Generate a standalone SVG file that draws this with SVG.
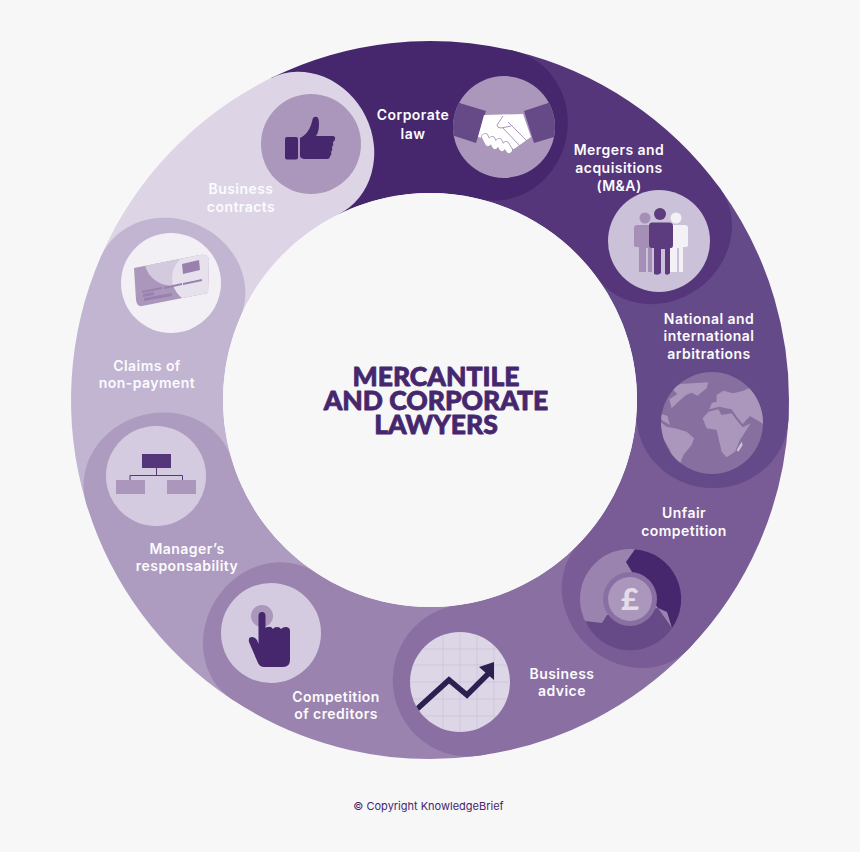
<svg xmlns="http://www.w3.org/2000/svg" width="860" height="852" viewBox="0 0 860 852">
<style>
.l{font-family:"Inter","Liberation Sans",sans-serif;font-weight:600;font-size:14px;fill:#fcfbfd;text-anchor:middle;letter-spacing:.45px}
.t{font-family:"Lato","Liberation Sans",sans-serif;font-weight:900;font-size:26.5px;fill:#46276e;stroke:#46276e;stroke-width:.8px;stroke-linejoin:round;text-anchor:middle}
.c0{fill:#46276e}.c1{fill:#55367a}.c2{fill:#654a8a}.c3{fill:#795b95}.c4{fill:#8a6fa3}.c5{fill:#9a83ae}.c6{fill:#ad9cc0}.c7{fill:#c2b5d2}.c8{fill:#ddd5e6}
.m{fill:#ab97bb}.p{fill:#d5cbe0}
</style>
<defs>
<clipPath id="cpA"><circle cx="504" cy="127" r="51"/></clipPath>
<clipPath id="cpG"><circle cx="712" cy="423" r="51"/></clipPath>
<clipPath id="cpC"><circle cx="460" cy="682" r="50"/></clipPath>
<clipPath id="cpK"><path d="M134 268L200 255Q208 254 209 260L208 293L142 306Q137 307 136 300Z"/></clipPath>
</defs>
<rect width="860" height="852" fill="#f7f7f7"/>
<g id="ring">
<path class="c1" d="M514.4 51.1A359 359 0 0 1 720.1 188.5L597.3 278A207 207 0 0 0 478.6 198.8Z"/>
<path class="c2" d="M720.1 188.5A359 359 0 0 1 788.4 420.4L636.7 411.8A207 207 0 0 0 597.3 278Z"/>
<path class="c3" d="M788.4 420.4A359 359 0 0 1 688.8 648.8L579.2 543.4A207 207 0 0 0 636.7 411.8Z"/>
<path class="c4" d="M688.8 648.8A359 359 0 0 1 478 755.8L457.7 605.2A207 207 0 0 0 579.2 543.4Z"/>
<path class="c5" d="M478 755.8A359 359 0 0 1 231.4 699.1L315.5 572.5A207 207 0 0 0 457.7 605.2Z"/>
<path class="c6" d="M231.4 699.1A359 359 0 0 1 86.1 502.9L231.7 459.3A207 207 0 0 0 315.5 572.5Z"/>
<path class="c7" d="M86.1 502.9A359 359 0 0 1 100.9 256.6L240.2 317.3A207 207 0 0 0 231.7 459.3Z"/>
<path class="c8" d="M100.9 256.6A359 359 0 0 1 271 78.1L338.3 214.4A207 207 0 0 0 240.2 317.3Z"/>
<path class="c0" d="M271 78.1A359 359 0 0 1 514.4 51.1L478.6 198.8A207 207 0 0 0 338.3 214.4Z"/>
</g>
<g id="corporate-law">
<ellipse class="c0" cx="496.500" cy="124.900" rx="71" ry="76" transform="rotate(13.6 496.500 124.900)"/>
<circle class="m" cx="504" cy="127" r="51"/>
<g clip-path="url(#cpA)">
<path fill="#654a87" d="M450 100L486 111L476 143L445 133Z"/>
<path fill="#654a87" d="M524 111L560 99L564 134L534 143Z"/>
</g>
<path fill="#fff" d="M484 115L523 114L531 137L514 149L490 140L478 137Z"/>
<g fill="none" stroke-linecap="round">
<path stroke="#ab97bb" stroke-width="7.500" d="M485 137L488 143M492 140L495 146M499 142L502 148M506 145L509 150"/>
<path stroke="#fff" stroke-width="6" d="M485 137L488 143M492 140L495 146M499 142L502 148M506 145L509 150"/>
</g>
<path fill="none" stroke="#ab97bb" stroke-width="1" d="M511 126L501 128Q497 128 497 125L503 116M508 122L527 141M503 128L520 146"/>
<text class="l" x="413" y="120">Corporate</text>
<text class="l" x="413" y="139">law</text>
</g>
<g id="mergers">
<ellipse class="c1" cx="658.700" cy="233.300" rx="68" ry="76" transform="rotate(53.9 658.700 233.300)"/>
<circle fill="#cbc1d8" cx="659" cy="241" r="51"/>
<g fill="#a58fb6">
<circle cx="645" cy="218" r="5.500"/>
<path d="M637 225H652V272H648V248H646V272H639V247H636Q634 247 634 245V228Q634 225 637 225Z"/>
</g>
<g fill="#f3f0f6">
<circle cx="676" cy="218" r="5.500"/>
<path d="M668 225H685Q688 225 688 228V245Q688 247 685 247H683V272H679V248H677V272H670Z"/>
</g>
<g fill="#5c3c7f">
<circle cx="660" cy="214" r="6"/>
<path d="M652 222.500H669Q673 222.500 673 226V245Q673 248 671 248H670V273Q668 276 665 274V249H661V273Q658 276 654 274V248H652Q649 248 649 245V226Q649 222.500 652 222.500Z"/>
</g>
<text class="l" x="619" y="155">Mergers and</text>
<text class="l" x="619" y="173">acquisitions</text>
<text class="l" x="619" y="191">(M&amp;A)</text>
</g>
<g id="arbitrations">
<ellipse class="c2" cx="712.500" cy="416.100" rx="72" ry="76" transform="rotate(93.3 712.500 416.100)"/>
<circle fill="#87709f" cx="712" cy="423" r="51"/>
<g clip-path="url(#cpG)">
<g class="m" transform="translate(560 130) scale(.3333)">
<path d="M335 775L362 762L445 757L440 775L412 797L395 788L378 795L355 815L335 835L328 808L352 792Z"/>
<path d="M470 795L490 782L520 790L550 782L590 765L615 800L615 885L590 870L570 858L548 882L530 860L515 838L498 835L478 830L448 838L455 820L470 815Z"/>
<path d="M428 865L445 845L475 838L485 855L515 850L530 870L548 892L572 880L540 930L525 965L500 982L485 965L470 900L440 895Z"/>
<path d="M300 875L320 890L345 895L380 905L402 925L395 945L370 975L355 1015L340 1010L330 960L310 925Z"/>
<path d="M300 850L322 858L330 885L305 870Z"/>
<path d="M530 960L545 935L548 945L535 965Z" fill="#cdc3d9"/>
</g>
</g>
<text class="l" x="709" y="324">National and</text>
<text class="l" x="709" y="341">international</text>
<text class="l" x="709" y="359">arbitrations</text>
</g>
<g id="unfair-competition">
<ellipse class="c3" cx="634" cy="596.100" rx="68" ry="76" transform="rotate(133.9 634 596.100)"/>
<circle class="c5" cx="630" cy="599" r="50"/>
<path class="c0" d="M635 549.300A50 50 0 0 1 672 628L667 612L658 608L632 572L626 562Z"/>
<path fill="#654a87" d="M672 628A50 50 0 0 1 585 621L602 623L607 615L658 608Z"/>
<circle class="c4" cx="630" cy="599" r="27"/>
<circle class="m" cx="630" cy="599" r="22"/>
<text x="630" y="610" text-anchor="middle" font-family="Lato,'Liberation Sans',sans-serif" font-weight="900" font-size="31" fill="#e3dcea">£</text>
<text class="l" x="684" y="518">Unfair</text>
<text class="l" x="684" y="536">competition</text>
</g>
<g id="business-advice">
<ellipse class="c4" cx="467.800" cy="680.500" rx="75" ry="76" transform="rotate(172.3 467.800 680.500)"/>
<circle fill="#ddd6e6" cx="460" cy="682" r="50"/>
<g clip-path="url(#cpC)">
<path fill="none" stroke="#cfc6dc" stroke-width="1" d="M443 630V735M460 630V735M477 630V735M494 630V735M410 649H510M410 665H510M410 682H510M410 699H510M410 716H510"/>
<path fill="none" stroke="#2b2150" stroke-width="5.500" d="M416 710L449 680L467 695L488 674"/>
</g>
<path fill="#2b2150" d="M494 662L479 667L494 680Z"/>
<text class="l" x="562" y="679">Business</text>
<text class="l" x="562" y="696">advice</text>
</g>
<g id="competition-of-creditors">
<ellipse class="c5" cx="273.500" cy="635.800" rx="68" ry="76" transform="rotate(-146.4 273.500 635.800)"/>
<circle class="p" cx="271" cy="633" r="50"/>
<circle class="m" cx="262" cy="616" r="11"/>
<path class="c0" d="M258.500 616Q258.500 612 262 612Q265.500 612 265.500 616V628Q266 627 268 627Q271 626 273 629Q274 627 277 627Q280 627 281 629Q283 627 285.500 627Q290 627 290 631V660Q290 667 283 667H264Q260 667 258 663L249 642Q248 637 252 637Q255 637 257 640L258.500 644Z"/>
<text class="l" x="336" y="702">Competition</text>
<text class="l" x="336" y="719">of creditors</text>
</g>
<g id="managers-responsability">
<ellipse class="c6" cx="158.900" cy="481.100" rx="68" ry="76" transform="rotate(-106.7 158.900 481.100)"/>
<circle class="p" cx="156" cy="476" r="50"/>
<rect class="c1" x="142" y="454" width="29" height="14"/>
<path fill="none" stroke="#55367a" stroke-width="1" d="M156.500 468V475.500M130 480V475.500H182.500V480"/>
<rect class="m" x="116" y="480" width="29" height="14"/>
<rect class="m" x="167" y="480" width="29" height="14"/>
<text class="l" x="187" y="554">Manager’s</text>
<text class="l" x="187" y="571">responsability</text>
</g>
<g id="claims-of-non-payment">
<ellipse class="c7" cx="170.600" cy="287" rx="68" ry="76" transform="rotate(-66.5 170.600 287)"/>
<circle fill="#f2f0f5" cx="171" cy="283" r="50"/>
<path class="m" d="M134 268L200 255Q208 254 209 260L208 293L142 306Q137 307 136 300Z"/>
<g clip-path="url(#cpK)">
<circle fill="#d3cadf" cx="172" cy="258" r="28"/>
<circle fill="#e6e1ec" cx="197" cy="278" r="25"/>
</g>
<path fill="#9a80ae" d="M182 264L199 260L200 270L183 274Z"/>
<path fill="#9a80ae" d="M142 291L162 287L162 289L142 293ZM164 287L182 283L182 285L164 289ZM183 283L202 279L202 281L183 285ZM143 294L154 292V295L143 297ZM144 298L172 293V296L144 301Z"/>
<text class="l" x="147" y="371">Claims of</text>
<text class="l" x="147" y="388">non-payment</text>
</g>
<g id="business-contracts">
<ellipse class="c8" cx="304.600" cy="146.300" rx="68" ry="76" transform="rotate(-26.3 304.600 146.300)"/>
<circle class="m" cx="311" cy="144" r="50"/>
<rect class="c0" x="285" y="137" width="13" height="22.500" rx="2"/>
<path class="c0" d="M300 138Q308 134 311 125L313 118Q315 116 317 117Q319 118 319 124Q319 132 316 136H333Q336 137 335 139Q335 141 333 142Q334 145 332 147Q333 150 331 152Q332 155 330 156Q330 159 327 159H304Q300 158 300 156Z"/>
<text class="l" x="241" y="194">Business</text>
<text class="l" x="241" y="212">contracts</text>
</g>
<g id="centre">
<circle cx="430" cy="400" r="207" fill="#f7f7f7"/>
<text class="t" x="436" y="386">MERCANTILE</text>
<text class="t" x="436" y="410">AND CORPORATE</text>
<text class="t" x="436" y="434">LAWYERS</text>
</g>
<text id="copyright" x="428.500" y="810" text-anchor="middle" font-family="Inter,'Liberation Sans',sans-serif" font-size="11" fill="#46276e">© Copyright KnowledgeBrief</text>
</svg>
